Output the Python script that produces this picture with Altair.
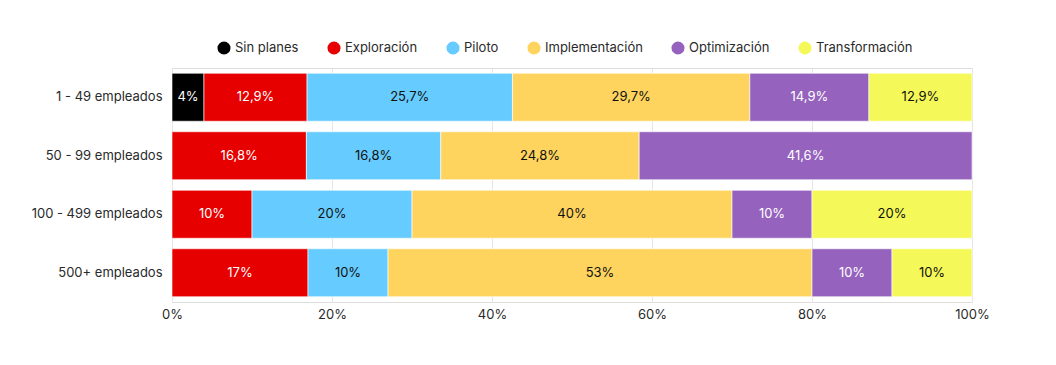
import altair as alt
import pandas as pd

sizes = ["1 - 49 empleados", "50 - 99 empleados", "100 - 499 empleados", "500+ empleados"]
stages = ["Sin planes", "Exploración", "Piloto", "Implementación", "Optimización", "Transformación"]
colors = ["#000000", "#E60000", "#66CCFF", "#FFD45E", "#9563BE", "#F4F858"]
text_colors = ["#FFFFFF", "#FFFFFF", "#111111", "#111111", "#FFFFFF", "#111111"]

values = {
    "1 - 49 empleados": [4, 12.9, 25.7, 29.7, 14.9, 12.9],
    "50 - 99 empleados": [0, 16.8, 16.8, 24.8, 41.6, 0],
    "100 - 499 empleados": [0, 10, 20, 40, 10, 20],
    "500+ empleados": [0, 17, 10, 53, 10, 10],
}

rows = []
for s in sizes:
    for i, (st, v) in enumerate(zip(stages, values[s])):
        if v == 0:
            continue
        rows.append({
            "size": s, "stage": st, "value": v, "order": i,
            "label": f"{v:g}%".replace(".", ","),
            "tcolor": text_colors[i],
        })
df = pd.DataFrame(rows)

FONT = "Inter"

base = alt.Chart(df).transform_stack(
    stack="value", as_=["x0", "x1"], groupby=["size"],
    sort=[alt.SortField("order")], offset="normalize"
).transform_calculate(xm="(datum.x0 + datum.x1) / 2")

yenc = alt.Y("size:N", sort=sizes, title=None,
             scale=alt.Scale(paddingInner=0.18, paddingOuter=0.09),
             axis=alt.Axis(labelFontSize=13, labelColor="#2A2A2A", labelPadding=10,
                           ticks=False, domain=False, labelFont=FONT, grid=False))

bars = base.mark_bar(stroke="#FFFFFF", strokeWidth=1, strokeOpacity=0.6).encode(
    x=alt.X("x0:Q", scale=alt.Scale(domain=[0, 1]), title=None,
            axis=alt.Axis(format="%", values=[0, 0.2, 0.4, 0.6, 0.8, 1.0],
                          labelFontSize=13, labelColor="#2A2A2A", labelPadding=6,
                          labelFlush=False,
                          ticks=False, domain=False, labelFont=FONT,
                          grid=True, gridColor="#E6E6E6", gridWidth=1)),
    x2="x1:Q",
    y=yenc,
    color=alt.Color("stage:N", sort=stages,
                    scale=alt.Scale(domain=stages, range=colors),
                    legend=alt.Legend(title=None, orient="none", direction="horizontal",
                                      legendX=45, legendY=-27,
                                      symbolType="circle", symbolSize=170,
                                      labelFontSize=13, labelColor="#2A2A2A",
                                      labelFont=FONT, columnPadding=28,
                                      symbolStrokeWidth=0)),
)

texts = base.mark_text(fontSize=13, font=FONT).encode(
    x="xm:Q",
    y=alt.Y("size:N", sort=sizes),
    text="label:N",
    color=alt.Color("tcolor:N", scale=None),
)

chart = alt.layer(bars, texts).properties(
    width=800, height=234,
    autosize=alt.AutoSizeParams(type="none"),
    padding={"left": 164, "top": 60, "right": 60, "bottom": 40},
).configure_view(stroke=None).configure(background="#FFFFFF")

chart.save("out.html", embed_options={"renderer": "svg", "actions": False})
